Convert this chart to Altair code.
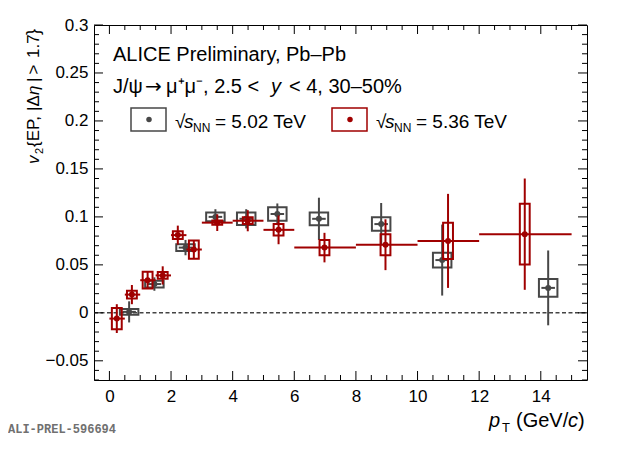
import altair as alt
import pandas as pd

# ---------------- data ----------------
# sqrt(sNN) = 5.02 TeV (grey)
pt502 = [0.64, 1.46, 2.47, 3.44, 4.44, 5.45, 6.80, 8.82, 10.80, 14.24]
v502 = [0.001, 0.030, 0.068, 0.100, 0.098, 0.103, 0.098, 0.0925, 0.055, 0.026]
stat502 = [0.011, 0.007, 0.008, 0.008, 0.010, 0.011, 0.022, 0.022, 0.037, 0.039]
sys502 = [0.003, 0.0035, 0.0035, 0.0045, 0.0065, 0.007, 0.0066, 0.007, 0.0077, 0.0092]

# sqrt(sNN) = 5.36 TeV (red)
pt536 = [0.24, 0.73, 1.24, 1.73, 2.22, 2.74, 3.50, 4.49, 5.49, 6.98, 8.96, 10.99, 13.48]
binlo536 = [0.0, 0.5, 1.0, 1.5, 2.0, 2.5, 3.0, 4.0, 5.0, 6.0, 8.0, 10.0, 12.0]
binhi536 = [0.5, 1.0, 1.5, 2.0, 2.5, 3.0, 4.0, 5.0, 6.0, 8.0, 10.0, 12.0, 15.0]
v536 = [-0.006, 0.019, 0.034, 0.039, 0.081, 0.066, 0.094, 0.096, 0.0865, 0.068, 0.071, 0.075, 0.082]
stat536 = [0.015, 0.010, 0.009, 0.0095, 0.0099, 0.0099, 0.0087, 0.011, 0.015, 0.0154, 0.0265, 0.049, 0.058]
sys536 = [0.011, 0.004, 0.0087, 0.0035, 0.004, 0.0095, 0.0023, 0.0035, 0.006, 0.008, 0.011, 0.0188, 0.0317]

# axis ticks
x_labels = [0, 2, 4, 6, 8, 10, 12, 14]
x_minor = [0.5, 1, 1.5, 2.5, 3, 3.5, 4.5, 5, 5.5, 6.5, 7, 7.5, 8.5, 9, 9.5,
           10.5, 11, 11.5, 12.5, 13, 13.5, 14.5, 15]
y_labels = [-0.05, 0, 0.05, 0.1, 0.15, 0.2, 0.25, 0.3]
y_minor = [-0.07, -0.06, -0.04, -0.03, -0.02, -0.01, 0.01, 0.02, 0.03, 0.04,
           0.06, 0.07, 0.08, 0.09, 0.11, 0.12, 0.13, 0.14, 0.16, 0.17, 0.18, 0.19,
           0.21, 0.22, 0.23, 0.24, 0.26, 0.27, 0.28, 0.29]

# ---------------- styles ----------------
W, H = 493, 355
GREY = "#474747"
RED = "#a00000"
FONT = "Liberation Sans"
GREY_HW = 0.30   # half width of grey systematic boxes (GeV/c)
RED_HW = 0.16    # half width of red systematic boxes
GREY_LINE_HW = 0.22

xs = alt.Scale(domain=[-0.5, 15.5], nice=False, zero=False)
ys = alt.Scale(domain=[-0.07, 0.3], nice=False, zero=False)

g = pd.DataFrame({"pt": pt502, "v": v502, "stat": stat502, "sys": sys502})
g["bx1"] = g.pt - GREY_HW
g["bx2"] = g.pt + GREY_HW
g["by1"] = g.v - g.sys
g["by2"] = g.v + g.sys
g["elo"] = g.v - g.stat
g["ehi"] = g.v + g.stat
g["hl"] = g.pt - GREY_LINE_HW
g["hh"] = g.pt + GREY_LINE_HW

r = pd.DataFrame({"pt": pt536, "lo": binlo536, "hi": binhi536, "v": v536,
                  "stat": stat536, "sys": sys536})
r["bx1"] = r.pt - RED_HW
r["bx2"] = r.pt + RED_HW
r["by1"] = r.v - r.sys
r["by2"] = r.v + r.sys
r["elo"] = r.v - r.stat
r["ehi"] = r.v + r.stat

xaxis = alt.Axis(values=x_labels, format="d", title=None, domain=False, ticks=False,
                 grid=False, labelFont=FONT, labelFontSize=17, labelColor="black",
                 labelPadding=8)
yaxis = alt.Axis(values=y_labels, format=".2~f", title=None, domain=False, ticks=False,
                 grid=False, labelFont=FONT, labelFontSize=17, labelColor="black",
                 labelPadding=6)


def X(f):
    return alt.X(f, scale=xs, axis=xaxis)


def Y(f):
    return alt.Y(f, scale=ys, axis=yaxis)


layers = []

# zero dashed line
zero = alt.Chart(pd.DataFrame({"z": [0.0]})).mark_rule(
    color="#444444", strokeWidth=1.5, strokeDash=[4, 2.5]).encode(
    y=Y("z:Q"), x=alt.value(0), x2=alt.value(W))
layers.append(zero)

# grey series
layers.append(alt.Chart(g).mark_rect(fillOpacity=0, stroke=GREY, strokeWidth=2).encode(
    x=X("bx1:Q"), x2="bx2:Q", y=Y("by1:Q"), y2="by2:Q"))
layers.append(alt.Chart(g).mark_rule(color=GREY, strokeWidth=2).encode(
    x=X("pt:Q"), y=Y("elo:Q"), y2="ehi:Q"))
layers.append(alt.Chart(g).mark_rule(color=GREY, strokeWidth=2).encode(
    x=X("hl:Q"), x2="hh:Q", y=Y("v:Q")))
layers.append(alt.Chart(g).mark_circle(size=36, opacity=1, color=GREY).encode(
    x=X("pt:Q"), y=Y("v:Q")))

# red series
layers.append(alt.Chart(r).mark_rect(fillOpacity=0, stroke=RED, strokeWidth=2).encode(
    x=X("bx1:Q"), x2="bx2:Q", y=Y("by1:Q"), y2="by2:Q"))
layers.append(alt.Chart(r).mark_rule(color=RED, strokeWidth=2).encode(
    x=X("pt:Q"), y=Y("elo:Q"), y2="ehi:Q"))
layers.append(alt.Chart(r).mark_rule(color=RED, strokeWidth=2).encode(
    x=X("lo:Q"), x2="hi:Q", y=Y("v:Q")))
layers.append(alt.Chart(r).mark_circle(size=36, opacity=1, color=RED).encode(
    x=X("pt:Q"), y=Y("v:Q")))

# inward ticks on all four sides
MAJ, MIN = 9, 5
for vals, ln in ((x_labels, MAJ), (x_minor, MIN)):
    d = pd.DataFrame({"t": vals})
    layers.append(alt.Chart(d).mark_rule(color="black", strokeWidth=1).encode(
        x=X("t:Q"), y=alt.value(H), y2=alt.value(H - ln)))
    layers.append(alt.Chart(d).mark_rule(color="black", strokeWidth=1).encode(
        x=X("t:Q"), y=alt.value(0), y2=alt.value(ln)))
for vals, ln in ((y_labels, MAJ), (y_minor, MIN)):
    d = pd.DataFrame({"t": vals})
    layers.append(alt.Chart(d).mark_rule(color="black", strokeWidth=1).encode(
        y=Y("t:Q"), x=alt.value(0), x2=alt.value(ln)))
    layers.append(alt.Chart(d).mark_rule(color="black", strokeWidth=1).encode(
        y=Y("t:Q"), x=alt.value(W), x2=alt.value(W - ln)))


def txt(s, x, y, size, italic=False, angle=0, color="black", font=FONT, weight="normal"):
    kw = dict(align="left", baseline="alphabetic", fontSize=size, font=font,
              color=color, fontWeight=weight)
    if italic:
        kw["fontStyle"] = "italic"
    if angle:
        kw["angle"] = angle
    return alt.Chart(pd.DataFrame({"t": [s]})).mark_text(**kw).encode(
        x=alt.value(x), y=alt.value(y), text="t:N")


# in-plot labels
layers.append(txt("ALICE Preliminary, Pb\u2013Pb", 19, 36, 20))
layers.append(txt("J/\u03c8", 19, 68, 20))
layers.append(txt("\u2192", 51, 68, 20, font="DejaVu Sans"))
layers.append(txt("\u03bc\u207a\u03bc\u207b, 2.5 <", 72, 68, 20))
layers.append(txt("y", 177, 68, 20, italic=True))
layers.append(txt("< 4, 30\u201350%", 195, 68, 20))

# legend
for bx, col, label in ((37, GREY, "= 5.02 TeV"), (238, RED, "= 5.36 TeV")):
    one = pd.DataFrame({"a": [1]})
    layers.append(alt.Chart(one).mark_rect(fillOpacity=0, stroke=col, strokeWidth=1.5).encode(
        x=alt.value(bx), x2=alt.value(bx + 35), y=alt.value(83), y2=alt.value(106)))
    layers.append(alt.Chart(one).mark_circle(size=30, opacity=1, color=col).encode(
        x=alt.value(bx + 18), y=alt.value(94.5)))
    tx = bx + 44
    layers.append(txt("\u221a", tx, 103, 19))
    layers.append(txt("s", tx + 9, 103, 19, italic=True))
    layers.append(txt("NN", tx + 18, 107, 12))
    layers.append(txt(label, tx + 40, 103, 19))

# x axis title
layers.append(txt("p", 395, 401.5, 20, italic=True))
layers.append(txt("T", 408, 406.5, 13))
layers.append(txt("(GeV/", 422, 401.5, 20))
layers.append(txt("c", 474, 401.5, 20, italic=True))
layers.append(txt(")", 484, 401.5, 20))

# y axis title (rotated pieces)
YB = -55
layers.append(txt("v", YB, 139, 17, italic=True, angle=270))
layers.append(txt("2", YB + 4, 129, 11, angle=270))
layers.append(txt("{EP,", YB, 122, 17, angle=270))
layers.append(txt("|\u0394", YB, 86, 17, angle=270))
layers.append(txt("\u03b7", YB, 70, 17, italic=True, angle=270))
layers.append(txt("|", YB, 57, 17, angle=270))
layers.append(txt(">", YB, 49.5, 17, angle=270))
layers.append(txt("1.7", YB, 33, 17, angle=270))
layers.append(txt("}", YB, 10, 18, angle=270))

# preliminary tag
layers.append(txt("ALI-PREL-596694", -86, 408, 12, color="#707070",
                  font="Liberation Mono", weight="bold"))

chart = alt.layer(*layers).properties(
    width=W, height=H,
    autosize=alt.AutoSizeParams(type="none"),
    padding={"left": 86, "top": 17, "right": 25, "bottom": 56},
).configure_view(stroke="black", strokeWidth=1)

chart.save("out.html", embed_options={"renderer": "svg", "actions": False})
